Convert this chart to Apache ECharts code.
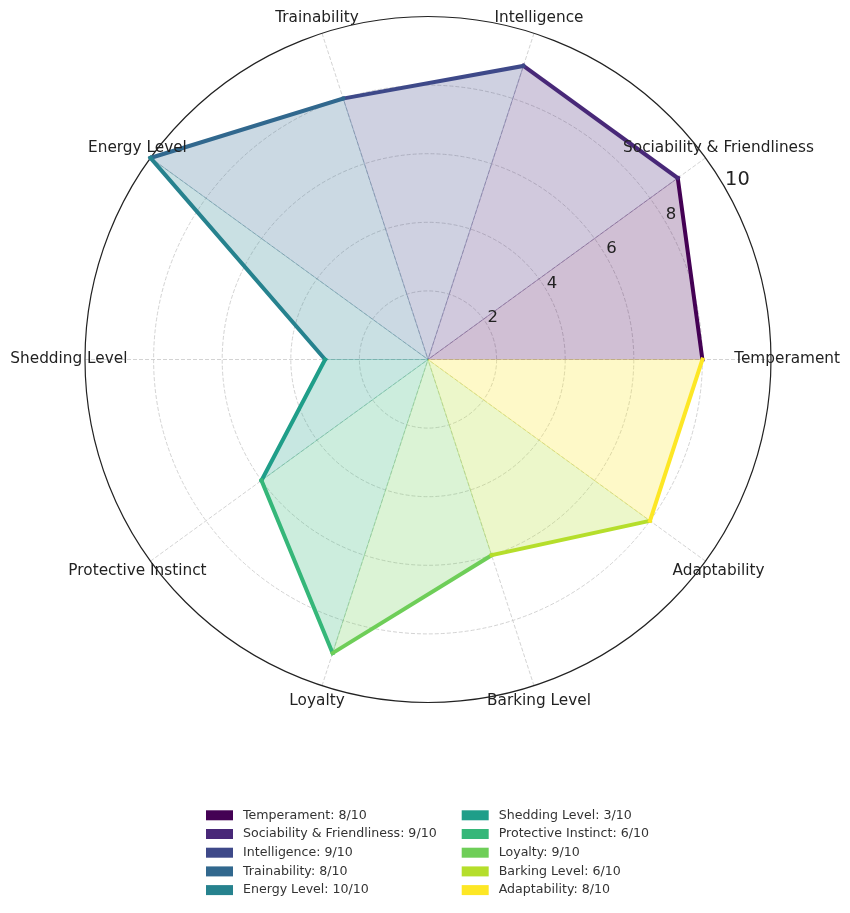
<!DOCTYPE html>
<html>
<head>
<meta charset="utf-8">
<script src="https://cdn.jsdelivr.net/npm/echarts@6/dist/echarts.min.js"></script>
<style>
html,body{margin:0;padding:0;background:#fff;}
#c{width:850px;height:913px;}
</style>
</head>
<body>
<div id="c"></div>
<script>
const categories = ['Temperament','Sociability & Friendliness','Intelligence','Trainability','Energy Level','Shedding Level','Protective Instinct','Loyalty','Barking Level','Adaptability'];
const values = [8, 9, 9, 8, 10, 3, 6, 9, 6, 8];
const colors = ['#440154','#482878','#3e4989','#31688e','#26828e','#1f9e89','#35b779','#6ece58','#b5de2b','#fde725'];
const radialTicks = [2, 4, 6, 8, 10];
const maxValue = 10;
const legendLabels = categories.map((c, i) => c + ': ' + values[i] + '/' + maxValue);

const N = categories.length;
const step = 360 / N;
const FONT = 'DejaVu Sans';

function rgba(hex, a) {
  const n = parseInt(hex.slice(1), 16);
  return 'rgba(' + ((n >> 16) & 255) + ',' + ((n >> 8) & 255) + ',' + (n & 255) + ',' + a + ')';
}

const wedgeSeries = categories.map((cat, i) => {
  const j = (i + 1) % N;
  return {
    name: legendLabels[i],
    type: 'custom',
    coordinateSystem: 'polar',
    z: 2,
    silent: true,
    itemStyle: { color: colors[i] },
    data: [[values[i], i * step, values[j], j * step]],
    renderItem: function (params, api) {
      const c = api.coord([0, 0]);
      const p1 = api.coord([api.value(0), api.value(1)]);
      const p2 = api.coord([api.value(2), api.value(3)]);
      return {
        type: 'group',
        children: [
          { type: 'polygon', shape: { points: [c, p1, p2] },
            style: { fill: rgba(colors[i], 0.25), stroke: rgba(colors[i], 0.18), lineWidth: 1 } },
          { type: 'line', shape: { x1: p1[0], y1: p1[1], x2: p2[0], y2: p2[1] },
            style: { stroke: colors[i], lineWidth: 4, lineCap: 'square' } }
        ]
      };
    }
  };
});

const catLabelSeries = {
  type: 'custom',
  coordinateSystem: 'polar',
  silent: true,
  z: 5,
  data: categories.map((c, i) => [maxValue * 1.047, i * step]),
  renderItem: function (params, api) {
    const p = api.coord([api.value(0), api.value(1)]);
    return {
      type: 'text',
      x: p[0], y: p[1],
      style: { text: categories[params.dataIndex], fill: '#222', font: '15.3px "' + FONT + '"',
               align: 'center', verticalAlign: 'middle' }
    };
  }
};

const tickLabelSeries = {
  type: 'custom',
  coordinateSystem: 'polar',
  silent: true,
  z: 5,
  data: radialTicks.map(v => [v, 30]),
  renderItem: function (params, api) {
    const p = api.coord([api.value(0), api.value(1)]);
    const last = params.dataIndex === radialTicks.length - 1;
    return {
      type: 'text',
      x: p[0], y: p[1] + 1,
      style: { text: String(radialTicks[params.dataIndex]), fill: '#222',
               font: (last ? '19.4px' : '16.5px') + ' "' + FONT + '"',
               align: 'left', verticalAlign: 'bottom' }
    };
  }
};

const legendCommon = {
  orient: 'vertical',
  icon: 'rect',
  itemWidth: 27,
  itemHeight: 10,
  itemGap: 4.7,
  padding: 0,
  selectedMode: false,
  textStyle: { fontFamily: FONT, fontSize: 12.6, color: '#333', lineHeight: 14, padding: [0, 0, 0, 5] }
};

const option = {
  backgroundColor: '#fff',
  animation: false,
  polar: { center: [428, 359.5], radius: 343 },
  angleAxis: {
    type: 'value', min: 0, max: 360, interval: step, startAngle: 0, clockwise: false,
    axisLine: { show: true, lineStyle: { color: '#222', width: 1.2 } },
    axisTick: { show: false },
    axisLabel: { show: false },
    splitLine: { show: true, lineStyle: { color: '#c8c8c8', width: 0.8, type: [4, 2] } }
  },
  radiusAxis: {
    type: 'value', min: 0, max: maxValue, interval: 2,
    axisLine: { show: false }, axisTick: { show: false }, axisLabel: { show: false },
    splitLine: { show: true, lineStyle: { color: ['#c8c8c8','#c8c8c8','#c8c8c8','#c8c8c8','#c8c8c8','rgba(0,0,0,0)'], width: 0.8, type: [4, 2] } }
  },
  legend: [
    Object.assign({}, legendCommon, { data: legendLabels.slice(0, 5), left: 206, top: 808.3 }),
    Object.assign({}, legendCommon, { data: legendLabels.slice(5), left: 461.7, top: 808.3 })
  ],
  series: wedgeSeries.concat([catLabelSeries, tickLabelSeries])
};

const chart = echarts.init(document.getElementById('c'), null, { renderer: 'canvas' });
chart.setOption(option);
</script>
</body>
</html>
